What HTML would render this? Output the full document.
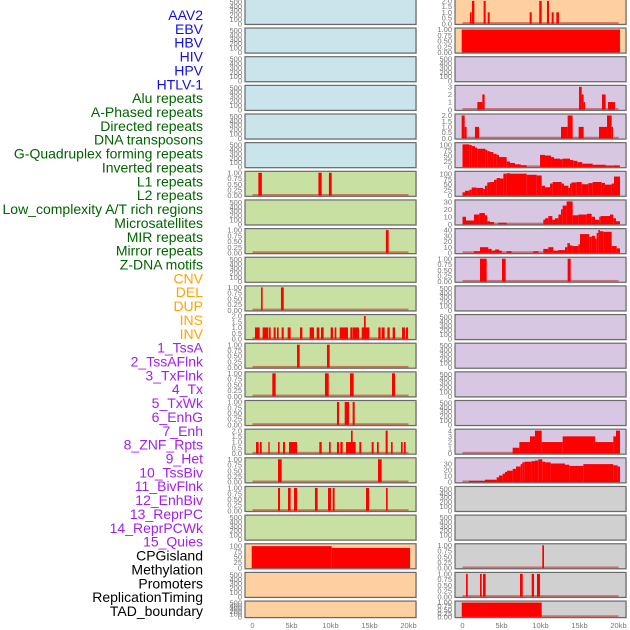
<!DOCTYPE html>
<html><head><meta charset="utf-8"><style>
body{margin:0;background:#fff}
svg{display:block}
</style></head><body>
<svg id="chart" width="630" height="630" viewBox="0 0 630 630" xmlns="http://www.w3.org/2000/svg"></svg>
<script>
// ---- data ----
const trackLabels = ["AAV2","EBV","HBV","HIV","HPV","HTLV-1","Alu repeats","A-Phased repeats","Directed repeats","DNA transposons","G-Quadruplex forming repeats","Inverted repeats","L1 repeats","L2 repeats","Low_complexity A/T rich regions","Microsatellites","MIR repeats","Mirror repeats","Z-DNA motifs","CNV","DEL","DUP","INS","INV","1_TssA","2_TssAFlnk","3_TxFlnk","4_Tx","5_TxWk","6_EnhG","7_Enh","8_ZNF_Rpts","9_Het","10_TssBiv","11_BivFlnk","12_EnhBiv","13_ReprPC","14_ReprPCWk","15_Quies","CPGisland","Methylation","Promoters","ReplicationTiming","TAD_boundary"];
const labelGroups = [6,13,5,15,5];
const xTicks = [0,5,10,15,20];
const xTickLabels = ["0","5kb","10kb","15kb","20kb"];
const ticksEmpty = [0,100,200,300,400,500];
const ticksBin = [0,0.25,0.5,0.75,1];
const ticks2 = [0,0.5,1,1.5,2];
const ticks3 = [0,1,2,3];
const ticks4 = [0,1,2,3,4];
const ticks100 = [0,25,50,75,100];
const ticks30 = [0,10,20,30];
const ticks40 = [0,10,20,30,40];

// segments: [startKb, endKb, value]
const aluData = [[0.75,1.2,1],[8.45,8.87,1],[9.8,10.15,1]];
const directedData = [[17.1,17.45,1]];
const gquadData = [[1.1,1.3,1],[3.65,4.0,1]];
const invertedData = [[0.32,0.92,1],[1.3,2.03,1],[2.12,2.33,1],[2.71,2.97,1],[3.14,3.35,1],[3.74,4.0,1],[4.51,4.89,1],[6.09,6.39,1],[7.33,7.88,1],[8.23,8.57,1],[8.78,9.12,1],[10.02,10.32,1],[10.53,10.75,1],[11.18,12.24,1],[12.54,12.84,1],[12.88,13.65,1],[14.0,14.98,1],[14.29,14.51,2],[16.13,16.43,1],[16.56,16.94,1],[17.29,17.59,1],[17.97,18.27,1],[19.17,19.55,1],[19.68,19.94,1]];
const l1Data = [[5.71,6.05,1],[9.55,9.89,1]];
const l2Data = [[2.54,2.97,1],[9.29,9.77,1],[12.5,12.97,1],[17.88,18.27,1]];
const lowComplexData = [[10.83,11.09,1],[11.82,12.37,1],[12.84,13.1,1]];
const microsatData = [[0.45,0.79,1],[0.96,1.18,1],[2.03,2.2,1],[3.27,3.48,1],[3.91,4.17,1],[4.68,5.71,1],[8.57,8.87,1],[9.81,10.02,1],[10.83,11.09,1],[11.26,11.56,1],[11.99,13.23,1],[12.63,12.84,2],[13.7,13.95,1],[15.28,15.53,1],[15.96,16.18,1],[17.07,17.33,2],[17.76,17.97,1],[19.04,19.25,1],[19.42,19.64,1]];
const mirData = [[3.27,3.74,1],[16.09,16.56,1]];
const mirrorData = [[3.27,3.53,1],[4.55,4.89,1],[5.32,5.71,1],[8.01,8.35,1],[9.68,10.06,1],[10.28,10.53,1],[14.55,14.94,1],[17.12,17.33,1]];
const cnvData = [[-0.1,10.15,100],[10.15,20.2,92]];
const insData = [[0.96,1.18,1],[1.22,1.52,2],[2.71,2.97,2],[3.23,3.48,1],[8.61,8.87,1],[9.84,10.15,2],[10.83,11.09,2],[11.43,11.69,1],[12.03,12.37,1]];
const invData = [[-0.1,20.19,1]];
const tssFlnkData = [[1.9,2.54,1],[2.54,2.84,2],[14.94,15.28,3],[15.28,15.53,2],[15.53,15.71,1],[17.88,18.35,2],[18.65,19.55,1]];
const txFlnkData = [[-0.11,0.28,2],[0.28,0.53,1],[1.6,2.12,1],[12.63,13.48,1],[13.48,14.12,2],[14.89,15.53,1],[17.5,18.53,1],[18.53,19.12,2],[19.12,19.29,1]];
const txData = [[0,0.88,103],[0.88,1.18,100],[1.18,1.6,95],[1.6,1.9,88],[1.9,2.93,83],[2.93,3.18,78],[3.18,3.53,72],[3.53,3.95,68],[3.95,4.38,60],[4.38,4.68,55],[4.68,5.66,45],[5.66,6.09,25],[6.09,6.73,18],[6.73,7.46,12],[7.46,8.23,8],[9.94,10.58,55],[10.58,11.35,52],[11.35,11.73,45],[11.73,12.5,38],[12.5,12.8,35],[12.8,13.78,38],[13.78,14.21,32],[14.21,14.72,28],[14.72,15.36,22],[15.36,16.69,15],[16.69,18.35,10],[18.35,19.25,6],[19.25,19.34,2],[19.34,20.19,7]];
const txWkData = [[0,0.32,15],[0.32,0.88,22],[0.88,1.18,27],[1.18,1.82,37],[1.82,2.67,35],[2.67,2.88,30],[2.88,3.18,45],[3.18,3.53,60],[3.53,4.04,62],[4.04,4.38,72],[4.38,4.81,80],[4.81,5.24,78],[5.24,5.66,100],[5.66,6.09,102],[6.09,8.23,100],[8.23,9.51,95],[9.51,10.15,92],[10.15,10.58,45],[10.58,11.22,38],[11.22,11.56,55],[11.56,12.71,62],[12.71,13.01,55],[13.01,13.57,45],[13.57,13.78,35],[13.78,13.99,55],[13.99,14.64,60],[14.64,15.28,62],[15.28,16.13,52],[16.13,16.69,57],[16.69,17.84,62],[17.84,18.27,58],[18.27,19.12,50],[19.12,19.42,55],[19.42,20.19,87]];
const enhGData = [[0,0.45,10],[0.45,1.47,5],[1.47,2.16,13],[2.16,2.88,15],[2.88,3.18,12],[3.18,3.53,4],[3.53,4.04,3],[4.59,5.66,2],[10.36,10.58,6],[10.58,11.0,8],[11.0,11.52,11],[11.52,11.86,6],[11.86,12.29,8],[12.29,12.63,13],[12.63,12.84,20],[12.84,13.35,25],[13.35,14.12,31],[14.12,14.85,12],[14.85,15.92,13],[15.92,16.56,14],[16.56,16.99,10],[16.99,17.54,6],[17.54,17.71,10],[17.71,18.91,11],[18.91,19.34,13],[19.34,19.68,8],[19.68,20.19,4]];
const enhData = [[1.47,2.24,3],[2.24,3.31,10],[3.31,3.74,7],[3.74,4.17,4],[4.17,4.68,6],[4.68,5.02,4],[5.66,6.3,3],[9.08,9.72,3],[10.36,11.0,7],[11.0,11.65,10],[11.65,12.29,4],[12.29,13.14,5],[13.14,13.44,10],[13.44,13.78,17],[13.78,14.12,13],[14.12,14.85,12],[14.85,15.06,15],[15.06,16.26,33],[16.26,16.56,28],[16.56,16.99,30],[16.99,17.2,25],[17.2,17.41,35],[17.41,17.63,40],[17.63,18.06,38],[18.06,19.12,37],[19.12,19.77,12],[19.77,20.19,8]];
const znfData = [[2.24,3.1,1],[5.06,5.53,1],[13.48,13.87,1]];
const reprPCWkData = [[6.43,7.29,1],[7.29,8.65,2],[8.65,9.29,3],[9.29,10.15,4],[10.15,12.84,2],[12.84,16.99,3],[16.99,19.34,2],[19.34,19.68,3],[19.68,20.19,4]];
const quiesData = [[0.83,2.88,2],[2.88,4.38,4],[4.38,4.68,8],[4.68,5.15,11],[5.15,5.45,14],[5.45,5.71,17],[5.71,6.43,19],[6.43,6.86,22],[6.86,7.46,26],[7.46,7.67,30],[7.67,7.93,33],[7.93,8.87,34],[8.87,9.29,35],[9.29,9.72,36],[9.72,10.23,38],[10.23,10.58,34],[10.58,11.3,33],[11.3,13.14,31],[13.14,13.7,29],[13.7,15.49,27],[15.49,19.34,30],[19.34,19.89,28],[19.89,20.19,26]];
const promotersData = [[10.23,10.45,1]];
const replicationData = [[0.45,0.67,1],[2.24,2.46,1],[2.63,2.97,1],[7.37,7.72,1],[8.87,9.17,1],[9.55,9.94,1]];
const tadData = [[-0.1,10.15,1]];

// ---- layout ----
const NS = "http://www.w3.org/2000/svg";
const svg = document.getElementById("chart");
const BLUE="#c9e4ea", GREEN="#c8e0a1", ORANGE="#fecf9f", PURPLE="#d7c7e2", GRAY="#d0d0d0";
function T(data,ticks,ymax,fill,name){return {data,ticks,ymax,fill,name};}
const leftTracks = [
 T(null,ticksEmpty,520,BLUE,"aav2"),T(null,ticksEmpty,520,BLUE,"ebv"),T(null,ticksEmpty,520,BLUE,"hbv"),
 T(null,ticksEmpty,520,BLUE,"hiv"),T(null,ticksEmpty,520,BLUE,"hpv"),T(null,ticksEmpty,520,BLUE,"htlv1"),
 T(aluData,ticksBin,1,GREEN,"alu"),T(null,ticksEmpty,520,GREEN,"a-phased"),T(directedData,ticksBin,1,GREEN,"directed"),
 T(null,ticksEmpty,520,GREEN,"dna-transposons"),T(gquadData,ticksBin,1,GREEN,"g-quadruplex"),T(invertedData,ticks2,2,GREEN,"inverted"),
 T(l1Data,ticksBin,1,GREEN,"l1"),T(l2Data,ticksBin,1,GREEN,"l2"),T(lowComplexData,ticksBin,1,GREEN,"low-complexity"),
 T(microsatData,ticks2,2,GREEN,"microsatellites"),T(mirData,ticksBin,1,GREEN,"mir"),T(mirrorData,ticksBin,1,GREEN,"mirror"),
 T(null,ticksEmpty,520,GREEN,"z-dna"),T(cnvData,ticks100,104,ORANGE,"cnv"),T(null,ticksEmpty,520,ORANGE,"del"),T(null,ticksEmpty,520,ORANGE,"dup")
];
const rightTracks = [
 T(insData,ticks2,2,ORANGE,"ins"),T(invData,ticksBin,1,ORANGE,"inv"),T(null,ticksEmpty,520,PURPLE,"tssa"),
 T(tssFlnkData,ticks3,3,PURPLE,"tssaflnk"),T(txFlnkData,ticks2,2,PURPLE,"txflnk"),T(txData,ticks100,104,PURPLE,"tx"),
 T(txWkData,ticks100,104,PURPLE,"txwk"),T(enhGData,ticks30,30.5,PURPLE,"enhg"),T(enhData,ticks40,40,PURPLE,"enh"),
 T(znfData,ticksBin,1,PURPLE,"znf"),T(null,ticksEmpty,520,PURPLE,"het"),T(null,ticksEmpty,520,PURPLE,"tssbiv"),
 T(null,ticksEmpty,520,PURPLE,"bivflnk"),T(null,ticksEmpty,520,PURPLE,"enhbiv"),T(null,ticksEmpty,520,PURPLE,"reprpc"),
 T(reprPCWkData,ticks4,4,PURPLE,"reprpcwk"),T(quiesData,ticks30,38,PURPLE,"quies"),
 T(null,ticksEmpty,520,GRAY,"cpgisland"),T(null,ticksEmpty,520,GRAY,"methylation"),T(promotersData,ticksBin,1,GRAY,"promoters"),
 T(replicationData,ticksBin,1,GRAY,"replication-timing"),T(tadData,ticksBin,1,GRAY,"tad-boundary")
];

function el(tag,attrs,parent){const e=document.createElementNS(NS,tag);for(const k in attrs)e.setAttribute(k,attrs[k]);(parent||svg).appendChild(e);return e;}

const ROW0=-0.6, ROWH=28.65;
function fmtTick(t,ticks){
  if(ticks===ticksBin) return t.toFixed(2);
  if(ticks===ticks2) return t.toFixed(1);
  return String(t);
}

function drawColumn(tracks,px0,pxW,x0,colName){
  const xs = kb => x0 + kb*7.8;
  tracks.forEach((tr,i)=>{
    const top = ROW0 + i*ROWH;
    const h = (i===tracks.length-1) ? 16.5 : 25;
    const g = el("g",{});
    
    
    el("rect",{x:px0+1,y:top+1,width:pxW,height:h,fill:"#bbb",opacity:0.5},g);
    el("rect",{x:px0,y:top,width:pxW,height:h,fill:tr.fill,stroke:"#6a6a6a","stroke-width":1.2},g);
    const iTop = top+1.5, iBot = top+h-0.7;
    const ys = v => iBot - Math.min(v,tr.ymax)/tr.ymax*(iBot-iTop);
    // ticks
    tr.ticks.forEach(t=>{
      const tx = el("text",{x:px0-3,y:ys(t)+2.6,"text-anchor":"end","font-size":"7.5","font-family":"Liberation Sans, sans-serif",fill:"#777"},g);
      
      
      tx.textContent = fmtTick(t,tr.ticks);
    });
    if(tr.data){
      const base = el("rect",{x:xs(0),y:iBot-1.6,width:xs(20)-xs(0),height:1.8,fill:"rgba(190,0,0,0.45)"},g);
      
      
      tr.data.forEach(d=>{
        const xa = Math.max(xs(d[0]),px0+0.6), xb = Math.min(xs(d[1]),px0+pxW-0.6);
        const y = Math.max(ys(d[2]),top+0.6);
        const r = el("rect",{x:xa,y:y,width:Math.max(xb-xa,1.2),height:iBot-y,fill:"#ff0000"},g);
        
        
      });
    }
  });
  xTicks.forEach((t,j)=>{
    const tx = el("text",{x:xs(t),y:628,"text-anchor":"middle","font-size":"7.5","font-family":"Liberation Sans, sans-serif",fill:"#777"});
    
    
    tx.textContent = xTickLabels[j];
  });
}
drawColumn(leftTracks,245,171,252.5,"left");
drawColumn(rightTracks,455,171,462.5,"right");

const groupColors = ["#1010e6","#006400","#ffa500","#a020f0","#000000"];
let gi=0, cnt=0;
trackLabels.forEach((lab,i)=>{
  if(cnt>=labelGroups[gi]){gi++;cnt=0;}
  cnt++;
  const t = el("text",{x:203,y:20+i*13.86,"text-anchor":"end","font-size":"14","font-family":"Liberation Sans, sans-serif",fill:groupColors[gi]});
  
  
  t.textContent = lab;
});
</script>
</body></html>
